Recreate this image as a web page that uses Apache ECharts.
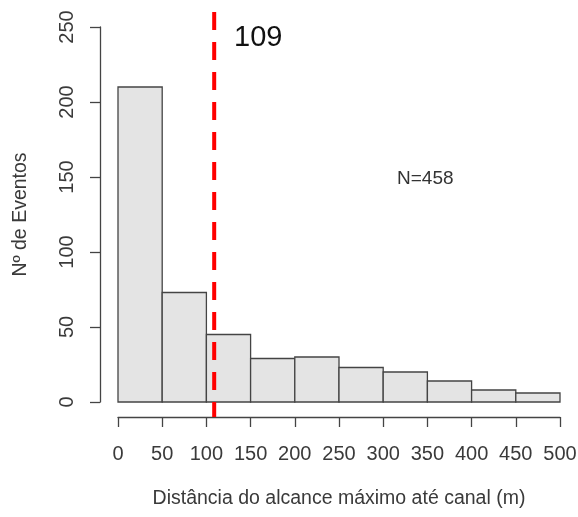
<!DOCTYPE html>
<html>
<head>
<meta charset="utf-8">
<script src="https://cdn.jsdelivr.net/npm/echarts@6/dist/echarts.min.js"></script>
<style>html,body{margin:0;padding:0;background:#fff}#c{width:578px;height:517px}</style>
</head>
<body>
<div id="c"></div>
<script>
// Histogram data
const breaks = [0, 50, 100, 150, 200, 250, 300, 350, 400, 450, 500];
const counts = [210, 73, 45, 29, 30, 23, 20, 14, 8, 6];
const xTicks = [0, 50, 100, 150, 200, 250, 300, 350, 400, 450, 500];
const yTicks = [0, 50, 100, 150, 200, 250];
const medianValue = 109;
const nLabel = 'N=458';
const xTitle = 'Distância do alcance máximo até canal (m)';
const yTitle = 'Nº de Eventos';

const FONT = "'Liberation Sans', Arial, sans-serif";

const binData = counts.map((c, i) => [breaks[i], breaks[i + 1], c]);

const chart = echarts.init(document.getElementById('c'), null, {renderer: 'canvas'});
chart.setOption({
  animation: false,
  backgroundColor: '#ffffff',
  textStyle: {fontFamily: FONT},
  grid: [
    {left: 118, top: 27, width: 442, height: 375, containLabel: false, outerBoundsMode: 'none'},
    {left: 100, top: 12, right: 0, bottom: 100, containLabel: false, outerBoundsMode: 'none'}
  ],
  xAxis: [
    {
      type: 'value', gridIndex: 0,
      min: xTicks[0], max: xTicks[xTicks.length - 1], interval: 50,
      offset: 15,
      axisLine: {show: true, onZero: false, lineStyle: {color: '#444', width: 1.3}},
      axisTick: {show: true, length: 10, lineStyle: {color: '#444', width: 1.3}},
      axisLabel: {color: '#3a3a3a', fontSize: 20, margin: 27, fontFamily: FONT},
      splitLine: {show: false},
      name: xTitle, nameLocation: 'middle', nameGap: 72,
      nameTextStyle: {color: '#3a3a3a', fontSize: 19.5, fontFamily: FONT}
    },
    {type: 'value', gridIndex: 1, min: -20, max: 520, show: false}
  ],
  yAxis: [
    {
      type: 'value', gridIndex: 0,
      min: yTicks[0], max: yTicks[yTicks.length - 1], interval: 50,
      offset: 18,
      axisLine: {show: true, onZero: false, lineStyle: {color: '#444', width: 1.3}},
      axisTick: {show: true, length: 10, lineStyle: {color: '#444', width: 1.3}},
      axisLabel: {color: '#3a3a3a', fontSize: 20, margin: 23, rotate: 90, fontFamily: FONT},
      splitLine: {show: false},
      name: yTitle, nameLocation: 'middle', nameGap: 69, nameRotate: 90,
      nameTextStyle: {color: '#3a3a3a', fontSize: 19.5, fontFamily: FONT}
    },
    {type: 'value', gridIndex: 1, min: -10, max: 260, show: false}
  ],
  series: [
    {
      type: 'custom',
      xAxisIndex: 0, yAxisIndex: 0,
      data: binData,
      renderItem: function (params, api) {
        const p0 = api.coord([api.value(0), 0]);
        const p1 = api.coord([api.value(1), api.value(2)]);
        return {
          type: 'rect',
          shape: {x: p0[0], y: p1[1], width: p1[0] - p0[0], height: p0[1] - p1[1]},
          style: {fill: '#e4e4e4', stroke: '#444', lineWidth: 1.3}
        };
      }
    },
    {
      type: 'line',
      xAxisIndex: 1, yAxisIndex: 1,
      data: [[medianValue, 260], [medianValue, -10]],
      symbol: 'none',
      lineStyle: {color: '#ff0000', width: 4, type: [18, 12]},
      z: 5
    }
  ],
  graphic: [
    {type: 'text', left: 234, top: 23,
     style: {text: String(medianValue), fontSize: 29, fill: '#111', fontFamily: FONT}},
    {type: 'text', left: 397, top: 169,
     style: {text: nLabel, fontSize: 19, fill: '#333', fontFamily: FONT}}
  ]
});
</script>
</body>
</html>
